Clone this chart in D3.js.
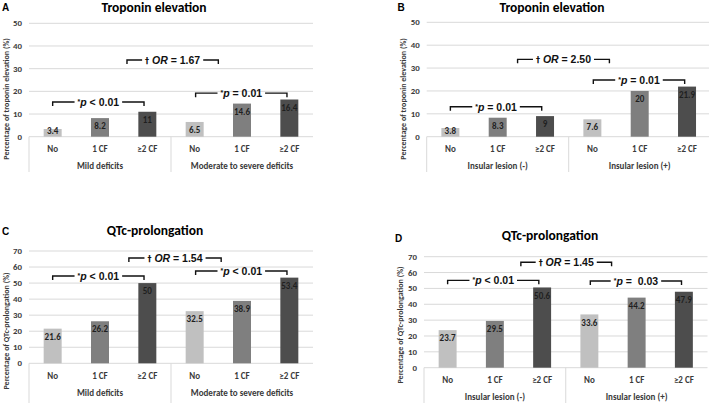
<!DOCTYPE html>
<html>
<head>
<meta charset="utf-8">
<script src="https://cdn.jsdelivr.net/npm/d3@7/dist/d3.min.js"></script>
<style>
  html, body { margin: 0; padding: 0; background: #fff; }
  svg { display: block; }
</style>
</head>
<body>
<svg id="chart" width="709" height="403"></svg>
<script>
// ---------------- DATA ----------------
const categories = ["No", "1 CF", "≥2 CF", "No", "1 CF", "≥2 CF"];
const groupsDeficit = ["Mild deficits", "Moderate to severe deficits"];
const groupsInsular = ["Insular lesion (-)", "Insular lesion (+)"];

const valuesA = [3.4, 8.2, 11, 6.5, 14.6, 16.4];
const valuesB = [3.8, 8.3, 9, 7.6, 20, 21.9];
const valuesC = [21.6, 26.2, 50, 32.5, 38.9, 53.4];
const valuesD = [23.7, 29.5, 50.6, 33.6, 44.2, 47.9];

const ticksTroponin = [0, 10, 20, 30, 40, 50];
const ticksQTc = [0, 10, 20, 30, 40, 50, 60, 70];

// annotation texts: [p left op, p left value, p right op, p right value]
const pTextA = ["<", "0.01", "=", "0.01"];
const pTextB = ["=", "0.01", "=", "0.01"];
const pTextC = ["<", "0.01", "<", "0.01"];
const pTextD = ["<", "0.01", "=", " 0.03"];
const orA = "1.67", orB = "2.50", orC = "1.54", orD = "1.45";
// bracket heights (value units): [p left, p right, OR]
const bracketYA = [15.3, 19.2, 33.8];
const bracketYB = [13.1, 24.8, 33.8];
const bracketYC = [54.4, 57.5, 65.6];
const bracketYD = [55.1, 54.7, 66.5];

// ---------------- LAYOUT ----------------
const panels = [
  { letter: "A", title: "Troponin elevation", ylabel: "Percentage of troponin elevation (%)",
    groups: groupsDeficit, values: valuesA, ticks: ticksTroponin, p: pTextA, or: orA, by: bracketYA,
    x0: 29, x1: 313, yTop: 23.3, yBase: 136.7, sepBottom: 172,
    titleX: 154, titleY: 12, letterX: 2, letterY: 11, ylabX: 6, ylabY: 99, orX: [2.07, 4.0] },
  { letter: "B", title: "Troponin elevation", ylabel: "Percentage of troponin elevation (%)",
    groups: groupsInsular, values: valuesB, ticks: ticksTroponin, p: pTextB, or: orB, by: bracketYB,
    x0: 426.7, x1: 710.7, yTop: 22.3, yBase: 136.7, sepBottom: 172,
    titleX: 552, titleY: 12, letterX: 397.5, letterY: 11, ylabX: 403, ylabY: 99, orX: [1.92, 3.86] },
  { letter: "C", title: "QTc-prolongation", ylabel: "Percentage of QTc-prolongation (%)",
    groups: groupsDeficit, values: valuesC, ticks: ticksQTc, p: pTextC, or: orC, by: bracketYC,
    x0: 29, x1: 313, yTop: 251, yBase: 363.3, sepBottom: 403,
    titleX: 155, titleY: 234.5, letterX: 2, letterY: 235, ylabX: 6, ylabY: 331, orX: [2.11, 4.06] },
  { letter: "D", title: "QTc-prolongation", ylabel: "Percentage of QTc-prolongation  (%)",
    groups: groupsInsular, values: valuesD, ticks: ticksQTc, p: pTextD, or: orD, by: bracketYD,
    x0: 424, x1: 707.5, yTop: 256.7, yBase: 367.7, sepBottom: 403,
    titleX: 550, titleY: 240, letterX: 395, letterY: 242, ylabX: 400, ylabY: 325, orX: [2.05, 3.97] }
];

const barColors = ["#c0c0c0", "#7f7f7f", "#4d4d4d"];
const gridColor = "#d9d9d9";
const textColor = "#3a3a3a";
const excelFont = "Carlito, Lato, 'Open Sans', sans-serif";
const arialFont = "'Liberation Sans', Arial, sans-serif";

const svg = d3.select("#chart");

panels.forEach(P => {
  const g = svg.append("g");
  const ymax = P.ticks[P.ticks.length - 1];
  const y = d3.scaleLinear().domain([0, ymax]).range([P.yBase, P.yTop]);
  const keys = categories.map((c, i) => i);
  const x = d3.scaleBand().domain(keys).range([P.x0, P.x1]).paddingInner(0.62).paddingOuter(0.31);
  const xu = d3.scaleLinear().domain([0, categories.length]).range([P.x0, P.x1]);

  // gridlines
  g.append("g").selectAll("line").data(P.ticks).join("line")
    .attr("x1", P.x0).attr("x2", P.x1)
    .attr("y1", d => y(d)).attr("y2", d => y(d))
    .attr("stroke", gridColor).attr("stroke-width", 1);

  // y tick labels
  g.append("g").selectAll("text").data(P.ticks).join("text")
    .attr("x", P.x0 - 7).attr("y", d => y(d))
    .attr("dy", "0.35em").attr("text-anchor", "end")
    .attr("font-family", excelFont).attr("font-weight", "bold")
    .attr("font-size", 8.8).attr("fill", textColor)
    .text(d => d);

  // bars
  g.append("g").selectAll("rect").data(P.values).join("rect")
    .attr("x", (d, i) => x(i)).attr("width", x.bandwidth())
    .attr("y", d => y(d)).attr("height", d => P.yBase - y(d))
    .attr("fill", (d, i) => barColors[i % 3]);

  // value labels
  g.append("g").selectAll("text").data(P.values).join("text")
    .attr("x", (d, i) => x(i) + x.bandwidth() / 2)
    .attr("y", d => Math.min(y(d) + 8, P.yBase - 6))
    .attr("dy", "0.35em").attr("text-anchor", "middle")
    .attr("font-family", excelFont).attr("font-weight", "bold")
    .attr("font-size", 9).attr("fill", "#1f1f1f")
    .text(d => d);

  // category labels
  g.append("g").selectAll("text").data(categories).join("text")
    .attr("x", (d, i) => x(i) + x.bandwidth() / 2)
    .attr("y", P.yBase + 12.5).attr("dy", "0.35em").attr("text-anchor", "middle")
    .attr("font-family", excelFont).attr("font-weight", "bold")
    .attr("font-size", 9).attr("fill", textColor)
    .text(d => d);

  // group labels
  g.append("g").selectAll("text").data(P.groups).join("text")
    .attr("x", (d, i) => xu(i * 3 + 1.5))
    .attr("y", P.yBase + 29.5).attr("dy", "0.35em").attr("text-anchor", "middle")
    .attr("font-family", excelFont).attr("font-weight", "bold")
    .attr("font-size", 9).attr("fill", textColor)
    .text(d => d);

  // group separators
  g.append("g").selectAll("line").data([0, 3]).join("line")
    .attr("x1", d => xu(d)).attr("x2", d => xu(d))
    .attr("y1", P.yBase).attr("y2", P.sepBottom)
    .attr("stroke", gridColor).attr("stroke-width", 1);

  // title
  g.append("text").attr("x", P.titleX).attr("y", P.titleY)
    .attr("text-anchor", "middle").attr("font-family", excelFont)
    .attr("font-weight", "bold").attr("font-size", 13.5).attr("fill", "#000")
    .text(P.title);

  // panel letter
  g.append("text").attr("x", P.letterX).attr("y", P.letterY)
    .attr("font-family", arialFont).attr("font-weight", "bold")
    .attr("font-size", 10).attr("fill", "#000").text(P.letter);

  // y axis label
  g.append("text")
    .attr("transform", `translate(${P.ylabX},${P.ylabY}) rotate(-90)`)
    .attr("text-anchor", "middle").attr("dy", "0.35em")
    .attr("font-family", excelFont).attr("font-weight", "bold")
    .attr("font-size", 8).attr("fill", textColor)
    .text(P.ylabel);

  // brackets
  const brackets = [
    { a: 0.5, b: 2.43, v: P.by[0], kind: "p", op: P.p[0], val: P.p[1] },
    { a: 3.52, b: 5.45, v: P.by[1], kind: "p", op: P.p[2], val: P.p[3] },
    { a: P.orX[0], b: P.orX[1], v: P.by[2], kind: "or", val: P.or }
  ];
  brackets.forEach(B => {
    const xa = xu(B.a), xb = xu(B.b), yy = y(B.v);
    const cx = (xa + xb) / 2;
    const t = g.append("text").attr("x", cx).attr("y", yy).attr("dy", "0.36em")
      .attr("text-anchor", "middle").attr("font-family", arialFont)
      .attr("font-weight", "bold").attr("font-size", 10.5).attr("fill", "#111");
    if (B.kind === "p") {
      t.append("tspan").attr("font-size", 7).attr("baseline-shift", "2").text("*");
      t.append("tspan").attr("font-style", "italic").text("p");
      t.append("tspan").text(" " + B.op + " " + B.val);
    } else {
      t.append("tspan").attr("font-size", 8).attr("font-family", "'DejaVu Sans', sans-serif").text("†");
      t.append("tspan").text(" ");
      t.append("tspan").attr("font-style", "italic").text("OR");
      t.append("tspan").text(" = " + B.val);
    }
    t.attr("xml:space", "preserve").style("white-space", "pre");
    const w = t.node().getComputedTextLength();
    const gap = 3;
    const path = d3.path();
    path.moveTo(xa, yy + 4); path.lineTo(xa, yy); path.lineTo(cx - w / 2 - gap, yy);
    path.moveTo(cx + w / 2 + gap, yy); path.lineTo(xb, yy); path.lineTo(xb, yy + 4);
    g.append("path").attr("d", path.toString()).attr("fill", "none")
      .attr("stroke", "#111").attr("stroke-width", 1.4);
  });
});
</script>
</body>
</html>
